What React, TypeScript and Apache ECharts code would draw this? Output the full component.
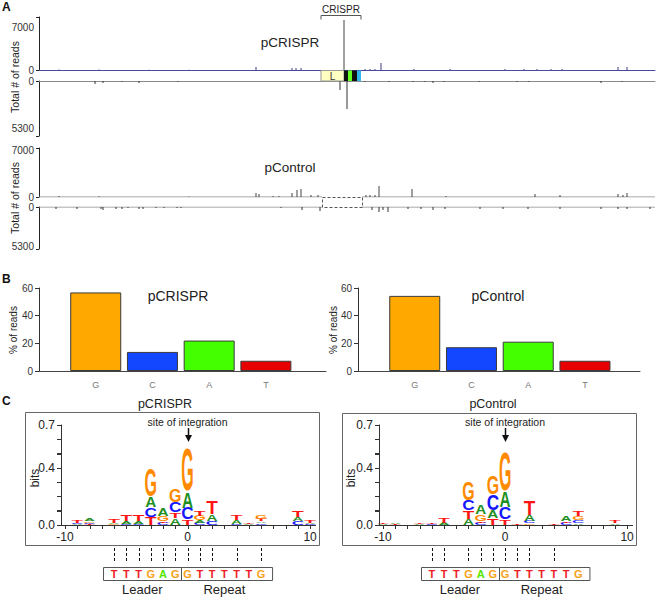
import React, { useEffect, useRef } from "react";
import * as echarts from "echarts";

const FONT = '"Liberation Sans", Arial, Helvetica, sans-serif';

// ---------- Panel A: reads per track position [position, total reads] ----------
const trackLength = 616;
const crisprPlusReads: number[][] = [
  [20, 80], [60, 80], [110, 60], [150, 60], [217, 500], [253, 330], [257, 330], [262, 330],
  [305, 8330], [326, 170], [331, 170], [336, 170], [342, 1170], [375, 170], [411, 170],
  [466, 170], [485, 170], [498, 170], [512, 170], [523, 170], [579, 500], [588, 500],
];
const crisprMinusReads: number[][] = [
  [56, 340], [64, 230], [83, 113], [100, 230], [139, 113], [301, 1010], [308, 3160],
  [326, 113], [350, 113], [374, 113], [386, 113], [394, 230], [405, 113], [440, 113],
  [478, 113], [490, 113], [562, 230], [583, 113],
];
const controlPlusReads: number[][] = [
  [20, 150], [60, 100], [150, 80], [217, 600], [220, 450], [234, 150], [240, 150], [253, 600],
  [258, 1040], [262, 1190], [272, 300], [279, 300], [327, 300], [331, 300], [336, 300],
  [340, 1640], [373, 1190], [407, 150], [496, 450], [521, 300], [579, 450], [584, 300], [588, 600],
];
const controlMinusReads: number[][] = [
  [17, 270], [38, 270], [62, 270], [64, 410], [77, 270], [83, 270], [89, 136], [100, 270],
  [104, 270], [117, 136], [125, 136], [138, 136], [142, 136], [242, 136], [263, 410], [281, 540],
  [333, 410], [340, 680], [344, 410], [349, 680], [369, 270], [382, 270], [394, 410], [406, 270],
  [441, 270], [464, 270], [489, 270], [521, 270], [562, 270], [579, 270], [588, 270], [611, 270],
];
const crisprArrayParts: number[][] = [[282, 305], [305, 309], [309, 313], [313, 318], [318, 322]];
const crisprArrayLabels = ["L", "", "", "", ""];
const crisprArrayColors = ["#ffffc2", "#111111", "#66ff22", "#111111", "#33b8ee"];
const controlTrackSegments: number[][] = [[0, 283], [323, 616]];
const controlGap: number[][] = [[283, 323]];

// ---------- Panel B: % of reads per base ----------
const bases = ["G", "C", "A", "T"];
const crisprPct = [56.8, 13.8, 22.0, 7.4];
const controlPct = [54.3, 17.2, 21.2, 7.4];
const baseColors = ["#ffa800", "#1246ff", "#44ff00", "#e60000"];

// ---------- Panel C: sequence logos (bottom -> top stacks, bits) ----------
const logoLetters = ["A", "C", "G", "T"];
const crisprLogo: [number, [string, number][]][] = [
  [-9, [["A", 0.006], ["C", 0.006], ["T", 0.02]]],
  [-8, [["T", 0.006], ["C", 0.01], ["G", 0.01], ["A", 0.022]]],
  [-6, [["G", 0.005], ["A", 0.01], ["T", 0.03]]],
  [-5, [["C", 0.008], ["A", 0.015], ["T", 0.045]]],
  [-4, [["C", 0.006], ["A", 0.02], ["T", 0.042]]],
  [-3, [["T", 0.056], ["C", 0.07], ["A", 0.077], ["G", 0.197]]],
  [-2, [["C", 0.014], ["T", 0.012], ["G", 0.035], ["A", 0.058]]],
  [-1, [["A", 0.047], ["T", 0.04], ["C", 0.075], ["G", 0.095]]],
  [0, [["T", 0.04], ["C", 0.081], ["A", 0.117], ["G", 0.302]]],
  [1, [["C", 0.015], ["A", 0.015], ["G", 0.033], ["T", 0.035]]],
  [2, [["C", 0.028], ["A", 0.05], ["T", 0.09]]],
  [4, [["C", 0.006], ["A", 0.025], ["T", 0.037]]],
  [5, [["A", 0.008], ["T", 0.008]]],
  [6, [["C", 0.012], ["A", 0.012], ["T", 0.02], ["G", 0.025]]],
  [9, [["C", 0.025], ["A", 0.03], ["T", 0.05]]],
  [10, [["C", 0.008], ["A", 0.008], ["T", 0.02]]],
];
const controlLogo: [number, [string, number][]][] = [
  [-10, [["A", 0.006], ["T", 0.004]]],
  [-9, [["T", 0.005], ["A", 0.012]]],
  [-7, [["A", 0.004], ["T", 0.008]]],
  [-6, [["C", 0.004], ["T", 0.006]]],
  [-5, [["A", 0.015], ["T", 0.035]]],
  [-3, [["A", 0.042], ["T", 0.058], ["C", 0.075], ["G", 0.13]]],
  [-2, [["C", 0.014], ["T", 0.01], ["G", 0.05], ["A", 0.063]]],
  [-1, [["T", 0.047], ["A", 0.056], ["C", 0.11], ["G", 0.134]]],
  [0, [["T", 0.04], ["C", 0.08], ["A", 0.115], ["G", 0.27]]],
  [1, [["T", 0.008]]],
  [2, [["G", 0.01], ["C", 0.018], ["A", 0.042], ["T", 0.105]]],
  [4, [["G", 0.003], ["T", 0.006]]],
  [5, [["C", 0.015], ["T", 0.01], ["A", 0.038]]],
  [6, [["A", 0.012], ["C", 0.02], ["G", 0.03], ["T", 0.041]]],
  [9, [["A", 0.01], ["T", 0.015]]],
];
const seqLetters = ["T", "T", "T", "G", "A", "G", "G", "T", "T", "T", "T", "T", "G"];
const seqStart = -6;
const crisprLinks = [-6, -5, -4, -3, -2, -1, 0, 1, 2, 4, 6];
const controlLinks = [-6, -5, -3, -2, -1, 0, 1, 2, 4];
const logoXTicks = [-10, -9, -8, -7, -6, -5, -4, -3, -2, -1, 0, 1, 2, 3, 4, 5, 6, 7, 8, 9, 10];
const logoXLabels = [-10, 0, 10];
const logoYTicks = [0, 0.1, 0.2, 0.3, 0.4, 0.5, 0.6, 0.7];
const logoYLabels = [0, 0.4, 0.7];
const LOGO_XMIN = -10.33;
const LOGO_XMAX = 10.4;

const INK: Record<string, number> = { A: 72, C: 64, G: 69, T: 58 };
const CAP = 73;
const LOGO_COL: Record<string, string> = { A: "#1f8f24", C: "#1616ff", G: "#ff8a00", T: "#ff1414" };
const SEQ_COL: Record<string, string> = { A: "#55e600", C: "#1616ff", G: "#f7a11a", T: "#ee1c24" };

const LOGO_GRIDS = [
  { left: 61, top: 425, width: 254, height: 100 },
  { left: 379, top: 425, width: 253, height: 100 },
];

function buildOption() {
  const grids = [
    { left: 39, top: 17, width: 616, height: 53 },
    { left: 39, top: 81, width: 616, height: 55 },
    { left: 39, top: 148, width: 616, height: 49 },
    { left: 39, top: 207, width: 616, height: 42 },
    { left: 39, top: 288, width: 287, height: 83 },
    { left: 358, top: 288, width: 282, height: 83 },
    ...LOGO_GRIDS,
  ].map((g) => ({ ...g, containLabel: false, outerBoundsMode: "none" }));

  const axisText = { fontFamily: FONT, color: "#333", fontSize: 10 };
  const trackX = (gi: number, show: boolean, color: string, pos: string) => ({
    type: "value", gridIndex: gi, min: 0, max: trackLength, position: pos,
    show: true,
    axisLine: { show, onZero: false, lineStyle: { color, width: 1 } },
    axisTick: { show: false }, axisLabel: { show: false }, splitLine: { show: false },
  });
  const trackY = (gi: number, max: number, label: number, inverse: boolean) => ({
    type: "value", gridIndex: gi, min: 0, max, inverse,
    axisLine: { show: true, onZero: false, lineStyle: { color: "#222", width: 1 } },
    axisTick: { show: true, length: 3, customValues: [0, max], lineStyle: { color: "#222" } },
    axisLabel: { ...axisText, margin: 5, customValues: [0, label], formatter: (v: number) => String(v) },
    splitLine: { show: false },
  });
  const barX = (gi: number, max: number) => ({
    type: "value", gridIndex: gi, min: 0, max, interval: 1,
    axisLine: { show: true, onZero: false, lineStyle: { color: "#444", width: 1 } },
    axisTick: { show: false },
    axisLabel: { fontFamily: FONT, fontSize: 9, color: "#777", margin: 9,
      formatter: (v: number) => bases[Math.round(v) - 1] || "" },
    splitLine: { show: false },
  });
  const barY = (gi: number) => ({
    type: "value", gridIndex: gi, min: 0, max: 60, interval: 20,
    axisLine: { show: true, onZero: false, lineStyle: { color: "#333", width: 1 } },
    axisTick: { show: true, length: 4, lineStyle: { color: "#333" } },
    axisLabel: { ...axisText, margin: 6 },
    splitLine: { show: false },
  });
  const logoX = (gi: number) => ({
    type: "value", gridIndex: gi, min: LOGO_XMIN, max: LOGO_XMAX,
    axisLine: { show: true, onZero: false, lineStyle: { color: "#333", width: 1 } },
    axisTick: { show: false },
    axisLabel: { fontFamily: FONT, fontSize: 12, color: "#222", margin: 6, customValues: logoXLabels },
    splitLine: { show: false },
  });
  const logoY = (gi: number) => ({
    type: "value", gridIndex: gi, min: 0, max: 0.7, interval: 0.1,
    axisLine: { show: true, onZero: false, lineStyle: { color: "#333", width: 1 } },
    axisTick: { show: true, length: 4, lineStyle: { color: "#333", width: 1 } },
    axisLabel: { fontFamily: FONT, fontSize: 12, color: "#222", margin: 6,
      formatter: (v: number) => (logoYLabels.some((t) => Math.abs(t - v) < 1e-6) ? v.toFixed(1) : "") },
    splitLine: { show: false },
  });

  const xAxis = [
    trackX(0, true, "#4a4a9c", "bottom"),
    trackX(1, true, "#8a8a8a", "top"),
    trackX(2, false, "#8a8a8a", "bottom"),
    trackX(3, false, "#8a8a8a", "top"),
    barX(4, 5.06), barX(5, 4.97),
    logoX(6), logoX(7),
  ];
  const yAxis = [
    trackY(0, 8830, 7000, false),
    trackY(1, 6200, 5300, true),
    trackY(2, 7300, 7000, false),
    trackY(3, 5700, 5300, true),
    barY(4), barY(5),
    logoY(6), logoY(7),
  ];

  const spikes = (gi: number, data: number[][], color: string, bigColor: string) => ({
    type: "bar", xAxisIndex: gi, yAxisIndex: gi, barWidth: 1, silent: true, z: 3,
    data: data.map((d) => ({ value: d, itemStyle: { color: d[1] > 3000 ? bigColor : color } })),
  });
  const zeroLines = (gi: number) => controlTrackSegments.map((seg) => ({
    type: "line", xAxisIndex: gi, yAxisIndex: gi, silent: true, symbol: "none", z: 1,
    data: seg.map((x) => [x, 0]), lineStyle: { color: "#8a8a8a", width: 1 },
  }));

  const pctBars = (gi: number, vals: number[]) => ({
    type: "bar", xAxisIndex: gi, yAxisIndex: gi, barWidth: 51, silent: true,
    data: vals.map((v, i) => [i + 1, v]),
    itemStyle: { color: (p: any) => baseColors[p.dataIndex], borderColor: "#3a3a3a", borderWidth: 1 },
  });

  // x-axis ticks of the logo plots as thin bars through the grid's own scale
  const tickBars = (gi: number) => ({
    type: "custom", xAxisIndex: gi, yAxisIndex: gi, silent: true, z: 50,
    data: logoXTicks.map((v) => [v, 0]), encode: { x: 0, y: 1 },
    renderItem: (params: any, api: any) => {
      const p = api.coord([api.value(0), 0]);
      return { type: "rect", shape: { x: Math.round(p[0]), y: Math.round(p[1]), width: 1, height: 4 },
        style: { fill: "#333" } };
    },
  });

  const logoSeries = (logo: [number, [string, number][]][], gi: number) => {
    const data: number[][] = [];
    logo.forEach(([pos, stack]) => {
      let y = 0;
      stack.forEach(([L, h]) => { data.push([pos, y, y + h, logoLetters.indexOf(L)]); y += h; });
    });
    return {
      type: "custom", xAxisIndex: gi, yAxisIndex: gi, silent: true, z: 4,
      data, encode: { x: 0, y: [1, 2] },
      renderItem: (params: any, api: any) => {
        const pos = api.value(0), y0 = api.value(1), y1 = api.value(2);
        const L = logoLetters[api.value(3)];
        const a = api.coord([pos - 0.45, y0]);
        const b = api.coord([pos + 0.45, y1]);
        const w = b[0] - a[0], h = a[1] - b[1];
        if (h < 0.4) return { type: "group", children: [] };
        return {
          type: "text", x: (a[0] + b[0]) / 2, y: (a[1] + b[1]) / 2,
          scaleX: w / INK[L], scaleY: h / CAP,
          style: { text: L, x: 0, y: 0, fontSize: 100, fontWeight: "bold", fontFamily: FONT,
            fill: LOGO_COL[L], align: "center", verticalAlign: "middle" },
        };
      },
    };
  };

  const seqSeries = (gi: number) => ({
    type: "custom", xAxisIndex: gi, yAxisIndex: gi, silent: true, z: 6,
    data: seqLetters.map((L, i) => [seqStart + i, 0, logoLetters.indexOf(L)]),
    encode: { x: 0, y: 1 },
    renderItem: (params: any, api: any) => {
      const p = api.coord([api.value(0), 0]);
      const L = logoLetters[api.value(2)];
      return {
        type: "text", x: p[0], y: p[1] + 49,
        style: { text: L, fontSize: 11, fontWeight: "bold", fontFamily: FONT, fill: SEQ_COL[L],
          align: "center", verticalAlign: "middle" },
      };
    },
  });

  const linkSeries = (gi: number, links: number[]) => ({
    type: "custom", xAxisIndex: gi, yAxisIndex: gi, silent: true, z: 5,
    data: links.map((p) => [p, 0]), encode: { x: 0, y: 1 },
    renderItem: (params: any, api: any) => {
      const p = api.coord([api.value(0), 0]);
      const x = Math.round(p[0]) + 0.5;
      return {
        type: "line", shape: { x1: x, y1: p[1] + 23, x2: x, y2: p[1] + 36 },
        style: { stroke: "#111", lineWidth: 1, lineDash: [3, 2] },
      };
    },
  });

  const frameSeries = (gi: number) => ({
    type: "custom", xAxisIndex: gi, yAxisIndex: gi, silent: true, z: 5,
    data: [[0, 0.7]], encode: { x: 0, y: 1 },
    renderItem: (params: any, api: any) => {
      const base = api.coord([0, 0]);
      const top = api.coord([0, 0.7]);
      const l = api.coord([-6.9, 0])[0];
      const r = api.coord([6.9, 0])[0];
      const d = api.coord([-0.5, 0])[0];
      const lead = api.coord([-3.7, 0])[0];
      const rep = api.coord([3, 0])[0];
      const y0 = Math.round(base[1] + 42) + 0.5;
      const ax = Math.round(top[0]) + 0.5;
      return {
        type: "group",
        children: [
          { type: "rect", shape: { x: Math.round(l) + 0.5, y: y0, width: r - l, height: 13 },
            style: { fill: "#fff", stroke: "#555", lineWidth: 1 } },
          { type: "line", shape: { x1: Math.round(d) + 0.5, y1: y0, x2: Math.round(d) + 0.5, y2: y0 + 13 },
            style: { stroke: "#555", lineWidth: 1 } },
          { type: "text", x: lead, y: base[1] + 64,
            style: { text: "Leader", fontSize: 13, fontFamily: FONT, fill: "#222", align: "center", verticalAlign: "middle" } },
          { type: "text", x: rep, y: base[1] + 64,
            style: { text: "Repeat", fontSize: 13, fontFamily: FONT, fill: "#222", align: "center", verticalAlign: "middle" } },
          { type: "text", x: top[0], y: top[1] - 3,
            style: { text: "site of integration", fontSize: 10.5, fontFamily: FONT, fill: "#222", align: "center", verticalAlign: "middle" } },
          { type: "line", shape: { x1: ax, y1: top[1] + 3, x2: ax, y2: top[1] + 12 },
            style: { stroke: "#111", lineWidth: 1.5 } },
          { type: "polygon", shape: { points: [[ax - 3.5, top[1] + 10], [ax + 3.5, top[1] + 10], [ax, top[1] + 17]] },
            style: { fill: "#111" } },
        ],
      };
    },
  });

  const arraySeries = {
    type: "custom", xAxisIndex: 0, yAxisIndex: 0, silent: true, z: 5,
    data: crisprArrayParts.map((p) => [p[0], p[1], 0]), encode: { x: [0, 1], y: 2 },
    renderItem: (params: any, api: any) => {
      const i = params.dataIndex;
      const a = api.coord([api.value(0), 0]);
      const b = api.coord([api.value(1), 0]);
      const children: any[] = [
        { type: "rect", shape: { x: a[0], y: a[1] + 0.5, width: b[0] - a[0], height: 10.5 },
          style: { fill: crisprArrayColors[i], stroke: i === 0 ? "#999" : "none", lineWidth: 1 } },
      ];
      if (crisprArrayLabels[i]) {
        children.push({ type: "text", x: (a[0] + b[0]) / 2, y: a[1] + 6,
          style: { text: crisprArrayLabels[i], fontSize: 10, fontFamily: FONT, fill: "#333", align: "center", verticalAlign: "middle" } });
      }
      return { type: "group", children };
    },
  };

  const bracketSeries = {
    type: "custom", xAxisIndex: 0, yAxisIndex: 0, silent: true, z: 5,
    data: [[crisprArrayParts[0][0], crisprArrayParts[crisprArrayParts.length - 1][1], 8830]],
    encode: { x: [0, 1], y: 2 },
    renderItem: (params: any, api: any) => {
      const a = api.coord([api.value(0), api.value(2)]);
      const b = api.coord([api.value(1), api.value(2)]);
      const y = Math.round(a[1]) - 1.5;
      return {
        type: "group",
        children: [
          { type: "polyline", shape: { points: [[a[0], y + 4], [a[0], y], [b[0], y], [b[0], y + 4]] },
            style: { stroke: "#555", lineWidth: 1, fill: "none" } },
          { type: "text", x: (a[0] + b[0]) / 2, y: y - 6,
            style: { text: "CRISPR", fontSize: 10, fontFamily: FONT, fill: "#222", align: "center", verticalAlign: "middle" } },
        ],
      };
    },
  };

  const gapSeries = {
    type: "custom", xAxisIndex: 2, yAxisIndex: 2, silent: true, z: 5,
    data: controlGap.map((g) => [g[0], g[1], 0]), encode: { x: [0, 1], y: 2 },
    renderItem: (params: any, api: any) => {
      const a = api.coord([api.value(0), 0]);
      const b = api.coord([api.value(1), 0]);
      return {
        type: "rect", shape: { x: Math.round(a[0]) + 0.5, y: Math.round(a[1]) + 0.5, width: b[0] - a[0], height: 10 },
        style: { fill: "none", stroke: "#555", lineWidth: 1, lineDash: [3, 2] },
      };
    },
  };

  const series: any[] = [
    spikes(0, crisprPlusReads, "#3d3d85", "#444"),
    spikes(1, crisprMinusReads, "#333", "#333"),
    spikes(2, controlPlusReads, "#444", "#444"),
    spikes(3, controlMinusReads, "#333", "#333"),
    ...zeroLines(2), ...zeroLines(3),
    arraySeries, bracketSeries, gapSeries,
    pctBars(4, crisprPct), pctBars(5, controlPct),
    logoSeries(crisprLogo, 6), logoSeries(controlLogo, 7),
    frameSeries(6), frameSeries(7),
    linkSeries(6, crisprLinks), linkSeries(7, controlLinks),
    seqSeries(6), seqSeries(7),
    tickBars(6), tickBars(7),
  ];

  // axis frame lines of the logo plots as thin filled rects along the grid edges
  const axisEls: any[] = [];
  LOGO_GRIDS.forEach((g) => {
    axisEls.push({ type: "rect", silent: true, z: 100,
      shape: { x: g.left, y: g.top, width: 1, height: g.height + 1 }, style: { fill: "#333" } });
    axisEls.push({ type: "rect", silent: true, z: 100,
      shape: { x: g.left, y: g.top + g.height, width: g.width + 1, height: 1 }, style: { fill: "#333" } });
    logoYTicks.forEach((v) => {
      const y = Math.round(g.top + g.height - (v / 0.7) * g.height);
      axisEls.push({ type: "rect", silent: true, z: 100, shape: { x: g.left - 4, y, width: 4, height: 1 },
        style: { fill: "#333" } });
    });
  });

  const txt = (text: string, x: number, y: number, size: number, extra: any = {}) => ({
    type: "text", x, y, silent: true, z: 10, ...extra,
    style: { text, fontSize: size, fontFamily: FONT, fill: "#222", align: "center", verticalAlign: "middle", ...(extra.style || {}) },
  });
  const rot = { rotation: Math.PI / 2 };
  const graphic: any[] = [
    txt("A", 2, 7, 12, { style: { fontWeight: "bold", align: "left", fill: "#111" } }),
    txt("pCRISPR", 290, 42, 13.5),
    txt("pControl", 290, 167, 13.5),
    txt("Total # of reads", 15, 77, 10.5, rot),
    txt("Total # of reads", 15, 198, 10.5, rot),
    txt("B", 2, 279, 12, { style: { fontWeight: "bold", align: "left", fill: "#111" } }),
    txt("pCRISPR", 178, 296, 14),
    txt("pControl", 498, 296, 14),
    txt("% of reads", 13, 330, 10, rot),
    txt("% of reads", 333, 330, 10, rot),
    txt("C", 2, 401, 12, { style: { fontWeight: "bold", align: "left", fill: "#111" } }),
    txt("pCRISPR", 165, 404, 12.5),
    txt("pControl", 493, 404, 12.5),
    txt("bits", 35, 478, 12, rot),
    txt("bits", 351, 478, 12, rot),
    { type: "polyline", silent: true, z: 10,
      shape: { points: [[25.5, 412.5], [319.5, 412.5], [319.5, 545.5], [25.5, 545.5], [25.5, 412.5]] },
      style: { fill: "none", stroke: "#666", lineWidth: 1 } },
    { type: "polyline", silent: true, z: 10,
      shape: { points: [[342.5, 413.5], [636.5, 413.5], [636.5, 545.5], [342.5, 545.5], [342.5, 413.5]] },
      style: { fill: "none", stroke: "#666", lineWidth: 1 } },
    ...axisEls,
  ];

  return {
    animation: false,
    backgroundColor: "#ffffff",
    textStyle: { fontFamily: FONT },
    grid: grids,
    xAxis,
    yAxis,
    series,
    graphic,
  };
}

export default function App() {
  const ref = useRef<HTMLDivElement>(null);
  useEffect(() => {
    if (!ref.current) return;
    const chart = echarts.init(ref.current, null, { renderer: "svg" });
    chart.setOption(buildOption() as any);
    return () => chart.dispose();
  }, []);
  return (
    <div
      ref={ref}
      style={{ position: "fixed", left: 0, top: 0, width: 657, height: 597, background: "#fff" }}
    />
  );
}
